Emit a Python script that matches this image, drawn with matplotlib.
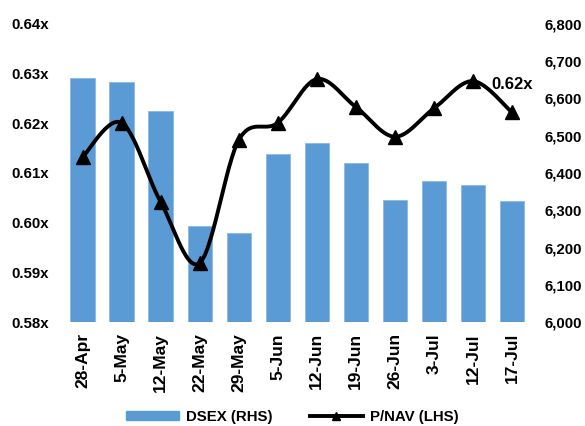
import matplotlib
matplotlib.use("Agg")
import matplotlib.pyplot as plt
import numpy as np
from matplotlib.lines import Line2D
from matplotlib.patches import Patch
from matplotlib.ticker import FuncFormatter

dates = ["28-Apr", "5-May", "12-May", "22-May", "29-May", "5-Jun",
         "12-Jun", "19-Jun", "26-Jun", "3-Jul", "12-Jul", "17-Jul"]
dsex = [6656, 6644, 6566, 6259, 6239, 6451, 6481, 6427, 6328, 6379, 6368, 6326]
pnav = [0.6132, 0.6201, 0.6042, 0.5919, 0.6166, 0.6201, 0.6289, 0.6233,
        0.6173, 0.6230, 0.6285, 0.6222]
left_ticks = [0.58, 0.59, 0.60, 0.61, 0.62, 0.63, 0.64]
right_ticks = [6000, 6100, 6200, 6300, 6400, 6500, 6600, 6700, 6800]
last_label = "0.62x"

plt.rcParams['font.family'] = ['Liberation Sans', 'DejaVu Sans']
plt.rcParams['font.weight'] = 'bold'

fig = plt.figure(figsize=(5.85, 4.26), dpi=100)
axr = fig.add_axes([0.1077, 0.2441, 0.8008, 0.6996])
axl = axr.twinx()
axl.yaxis.tick_left()
axr.yaxis.tick_right()

x = np.arange(len(dates))
bar_color = "#5B9BD5"
axr.bar(x, dsex, width=0.62, color=bar_color, edgecolor="#8DB8E2", linewidth=0.6)
axr.set_ylim(6000, 6800)
axr.set_yticks(right_ticks)
axr.yaxis.set_major_formatter(FuncFormatter(lambda v, p: f"{int(v):,}"))
axr.set_xlim(-0.5, len(dates) - 0.5)
axr.set_xticks(x)
axr.set_xticklabels(dates, rotation=90, fontsize=12.5, fontweight='bold')

# smooth curve (Catmull-Rom via Bezier segments)
def smooth(xs, ys, n=30):
    xs = np.asarray(xs, float); ys = np.asarray(ys, float)
    px = np.concatenate([[xs[0]], xs, [xs[-1]]])
    py = np.concatenate([[ys[0]], ys, [ys[-1]]])
    ox, oy = [], []
    t = np.linspace(0, 1, n)
    for i in range(1, len(px) - 2):
        p0x, p1x, p2x, p3x = px[i-1], px[i], px[i+1], px[i+2]
        p0y, p1y, p2y, p3y = py[i-1], py[i], py[i+1], py[i+2]
        c1x = p1x + (p2x - p0x) / 6; c1y = p1y + (p2y - p0y) / 6
        c2x = p2x - (p3x - p1x) / 6; c2y = p2y - (p3y - p1y) / 6
        bx = (1-t)**3*p1x + 3*(1-t)**2*t*c1x + 3*(1-t)*t**2*c2x + t**3*p2x
        by = (1-t)**3*p1y + 3*(1-t)**2*t*c1y + 3*(1-t)*t**2*c2y + t**3*p2y
        ox.extend(bx); oy.extend(by)
    return ox, oy

sx, sy = smooth(x, pnav)
axl.plot(sx, sy, color='black', linewidth=2.8, zorder=3)
axl.plot(x, pnav, linestyle='none', marker='^', markersize=10, color='black', zorder=4)
axl.set_ylim(0.58, 0.64)
axl.set_yticks(left_ticks)
axl.yaxis.set_major_formatter(FuncFormatter(lambda v, p: f"{v:.2f}x"))
axl.annotate(last_label, (x[-1], pnav[-1]), xytext=(-14.5, 20), textcoords='offset points',
             fontsize=12, fontweight='bold', ha='left', va='center')

axl.set_zorder(axr.get_zorder() + 1)
axl.patch.set_visible(False)

for a in (axl, axr):
    for s in a.spines.values():
        s.set_visible(False)
    a.tick_params(length=0)
axl.tick_params(axis='y', pad=10, labelsize=10.8)
axr.tick_params(axis='y', pad=9.5, labelsize=10.8)
axr.tick_params(axis='x', pad=8)
for lab in axl.get_yticklabels() + axr.get_yticklabels():
    lab.set_fontweight('bold')

handles = [Patch(facecolor=bar_color, edgecolor=bar_color),
           Line2D([0], [0], color='black', linewidth=2.8, marker='^', markersize=6)]
fig.legend(handles, ["DSEX (RHS)", "P/NAV (LHS)"], loc='lower center',
           bbox_to_anchor=(0.5, -0.027), ncol=2, frameon=False, fontsize=10.8,
           handlelength=3.5, handleheight=0.6, columnspacing=2.5, handletextpad=0.5)

fig.savefig("out.png", dpi=100)
